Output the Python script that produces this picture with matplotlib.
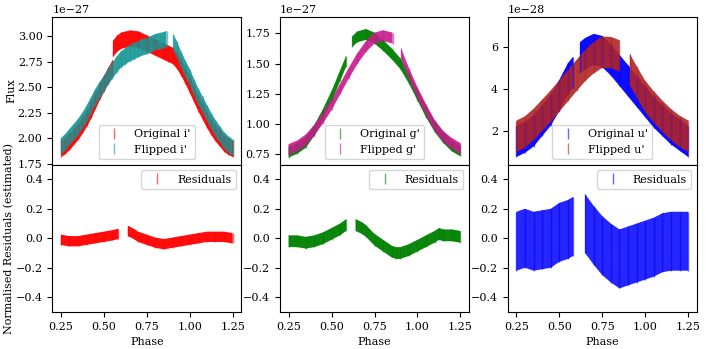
import numpy as np
import matplotlib
matplotlib.use("Agg")
import matplotlib.pyplot as plt

plt.rcParams['font.family'] = ['DejaVu Serif']
plt.rcParams['font.size'] = 8

# --- i' band (flux in 1e-27) ---
i_orig_phase = [0.25, 0.275, 0.30, 0.325, 0.35, 0.375, 0.40, 0.425, 0.45, 0.475, 0.50, 0.525,
                0.55, 0.551, 0.575, 0.60, 0.65, 0.70, 0.75, 0.80, 0.85, 0.875, 0.90, 0.925,
                0.95, 0.975, 1.00, 1.025, 1.05, 1.075, 1.10, 1.125, 1.15, 1.175, 1.20, 1.225, 1.25]
i_orig_flux = [1.90, 1.93, 1.97, 2.02, 2.07, 2.13, 2.20, 2.28, 2.37, 2.46, 2.54, 2.62,
               2.69, 2.88, 2.93, 2.96, 2.98, 2.97, 2.93, 2.89, 2.85, 2.83, 2.81, 2.76,
               2.69, 2.61, 2.52, 2.43, 2.34, 2.26, 2.18, 2.11, 2.05, 2.00, 1.95, 1.92, 1.90]
i_flip_phase = [0.25, 0.275, 0.30, 0.325, 0.35, 0.375, 0.40, 0.425, 0.45, 0.475, 0.50, 0.525,
                0.55, 0.575, 0.60, 0.625, 0.65, 0.675, 0.70, 0.725, 0.75, 0.775, 0.80, 0.825,
                0.85, 0.865, 0.885, 0.905, 0.925, 0.95, 0.975, 1.00, 1.025, 1.05, 1.075, 1.10,
                1.125, 1.15, 1.175, 1.20, 1.225, 1.25]
i_flip_flux = [1.92, 1.96, 2.01, 2.06, 2.11, 2.17, 2.24, 2.32, 2.40, 2.47, 2.53, 2.60,
               2.66, 2.72, 2.77, 2.80, 2.83, 2.85, 2.87, 2.89, 2.90, 2.92, 2.94, 2.95,
               2.96, 2.97, np.nan, 2.94, 2.87, 2.77, 2.68, 2.60, 2.50, 2.41, 2.33, 2.25,
               2.17, 2.10, 2.04, 1.98, 1.94, 1.91]
i_res_phase = [0.25, 0.30, 0.35, 0.40, 0.45, 0.50, 0.55, 0.585, 0.61, 0.64, 0.675, 0.70,
               0.75, 0.80, 0.85, 0.90, 0.95, 1.00, 1.05, 1.10, 1.15, 1.20, 1.25]
i_res = [-0.01, -0.02, -0.02, -0.01, 0.0, 0.01, 0.02, 0.03, np.nan, 0.05, 0.03, 0.01,
         -0.01, -0.03, -0.04, -0.03, -0.02, -0.01, 0.0, 0.01, 0.01, 0.01, 0.0]

# --- g' band (flux in 1e-27) ---
g_orig_phase = [0.25, 0.30, 0.35, 0.40, 0.45, 0.50, 0.55, 0.585, 0.60, 0.62, 0.65, 0.70,
                0.75, 0.80, 0.85, 0.90, 0.95, 1.00, 1.05, 1.10, 1.15, 1.20, 1.25]
g_orig_flux = [0.77, 0.80, 0.85, 0.95, 1.08, 1.23, 1.40, 1.52, np.nan, 1.68, 1.72, 1.74,
               1.71, 1.65, 1.58, 1.50, 1.38, 1.24, 1.10, 0.98, 0.89, 0.82, 0.78]
g_flip_phase = [0.25, 0.30, 0.35, 0.40, 0.45, 0.50, 0.55, 0.60, 0.65, 0.70, 0.75, 0.80,
                0.855, 0.88, 0.905, 0.95, 1.00, 1.05, 1.10, 1.15, 1.20, 1.25]
g_flip_flux = [0.79, 0.82, 0.87, 0.95, 1.05, 1.16, 1.29, 1.42, 1.54, 1.64, 1.71, 1.73,
               1.71, np.nan, 1.58, 1.42, 1.26, 1.12, 0.99, 0.90, 0.84, 0.80]
g_res_phase = [0.25, 0.30, 0.35, 0.40, 0.45, 0.50, 0.55, 0.585, 0.61, 0.64, 0.675, 0.70,
               0.75, 0.80, 0.85, 0.875, 0.90, 0.95, 1.00, 1.05, 1.10, 1.125, 1.15, 1.20, 1.25]
g_res = [-0.02, -0.02, -0.03, -0.02, 0.0, 0.03, 0.06, 0.09, np.nan, 0.09, 0.07, 0.05,
         -0.01, -0.05, -0.09, -0.10, -0.10, -0.08, -0.05, -0.02, 0.01, 0.03, 0.02, 0.02, 0.01]

# --- u' band (flux in 1e-28) ---
u_orig_phase = [0.25, 0.30, 0.35, 0.40, 0.45, 0.50, 0.55, 0.58, 0.60, 0.62, 0.65, 0.70,
                0.75, 0.80, 0.85, 0.90, 0.95, 1.00, 1.05, 1.10, 1.15, 1.20, 1.25]
u_orig_flux = [1.5, 1.7, 2.0, 2.5, 3.0, 3.7, 4.5, 4.8, np.nan, 5.5, 5.7, 5.9,
               5.8, 5.4, 4.9, 4.4, 3.9, 3.4, 2.9, 2.5, 2.1, 1.8, 1.5]
u_flip_phase = [0.25, 0.30, 0.35, 0.40, 0.45, 0.50, 0.55, 0.60, 0.65, 0.70, 0.75, 0.80,
                0.85, 0.88, 0.91, 0.95, 1.00, 1.05, 1.10, 1.15, 1.20, 1.25]
u_flip_flux = [1.74, 1.95, 2.31, 2.75, 3.19, 3.67, 4.16, 4.65, 5.13, 5.50, 5.77, 5.75,
               5.60, np.nan, 4.95, 4.35, 3.65, 3.15, 2.70, 2.30, 1.98, 1.75]
u_res_phase = [0.25, 0.30, 0.35, 0.40, 0.45, 0.50, 0.55, 0.58, 0.62, 0.65, 0.70, 0.75,
               0.80, 0.85, 0.90, 0.95, 1.00, 1.05, 1.10, 1.15, 1.20, 1.25]
u_res = [-0.02, 0.0, -0.02, -0.01, 0.0, 0.04, 0.06, 0.08, np.nan, 0.10, 0.02, -0.05,
         -0.10, -0.14, -0.12, -0.10, -0.08, -0.06, -0.03, -0.02, -0.02, -0.02]

bands = [
    ("i'", 1e-27, i_orig_phase, i_orig_flux, i_flip_phase, i_flip_flux, i_res_phase, i_res,
     'red', '#179696', 0.08, 0.035, 0.95, (1.743, 3.185)),
    ("g'", 1e-27, g_orig_phase, g_orig_flux, g_flip_phase, g_flip_flux, g_res_phase, g_res,
     'green', '#c81a8c', 0.045, 0.04, 0.95, (0.667, 1.883)),
    ("u'", 1e-28, u_orig_phase, u_orig_flux, u_flip_phase, u_flip_flux, u_res_phase, u_res,
     'blue', '#b22424', 0.75, 0.2, 0.85, (0.39, 7.45)),
]


def band(ax, x, y, hw, color, label, alpha):
    x = np.array(x)
    y = np.array(y, dtype=float)
    ax.fill_between(x, y - hw, y + hw, color=color, alpha=alpha, lw=0)
    ax.errorbar(x, y, yerr=hw, fmt='none', ecolor=color, alpha=0.6, lw=1, label=label)


fig, axes = plt.subplots(2, 3, figsize=(7.06, 3.49), dpi=100, sharex='col')
fig.subplots_adjust(left=0.074, right=0.987, top=0.951, bottom=0.106, hspace=0, wspace=0.205)

for col, (name, scale, op, of, fp, ff, rp, rv, c1, c2, hw, rhw, ra, ylim) in enumerate(bands):
    top, bot = axes[0, col], axes[1, col]
    band(top, op, np.array(of) * scale, hw * scale, c1, 'Original ' + name, 0.95)
    band(top, fp, np.array(ff) * scale, hw * scale, c2, 'Flipped ' + name, 0.9)
    top.set_ylim(ylim[0] * scale, ylim[1] * scale)
    top.legend(loc='lower center')
    band(bot, rp, rv, rhw, c1, 'Residuals', ra)
    bot.set_ylim(-0.5, 0.5)
    bot.set_xlim(0.2, 1.3)
    bot.set_xticks([0.25, 0.5, 0.75, 1.0, 1.25])
    bot.set_yticks([-0.4, -0.2, 0.0, 0.2, 0.4])
    bot.legend(loc='upper right')
    bot.set_xlabel('Phase')

axes[0, 0].set_ylabel('Flux', labelpad=1)
axes[1, 0].set_ylabel('Normalised Residuals (estimated)', labelpad=1)

fig.savefig('out.png', dpi=100)
